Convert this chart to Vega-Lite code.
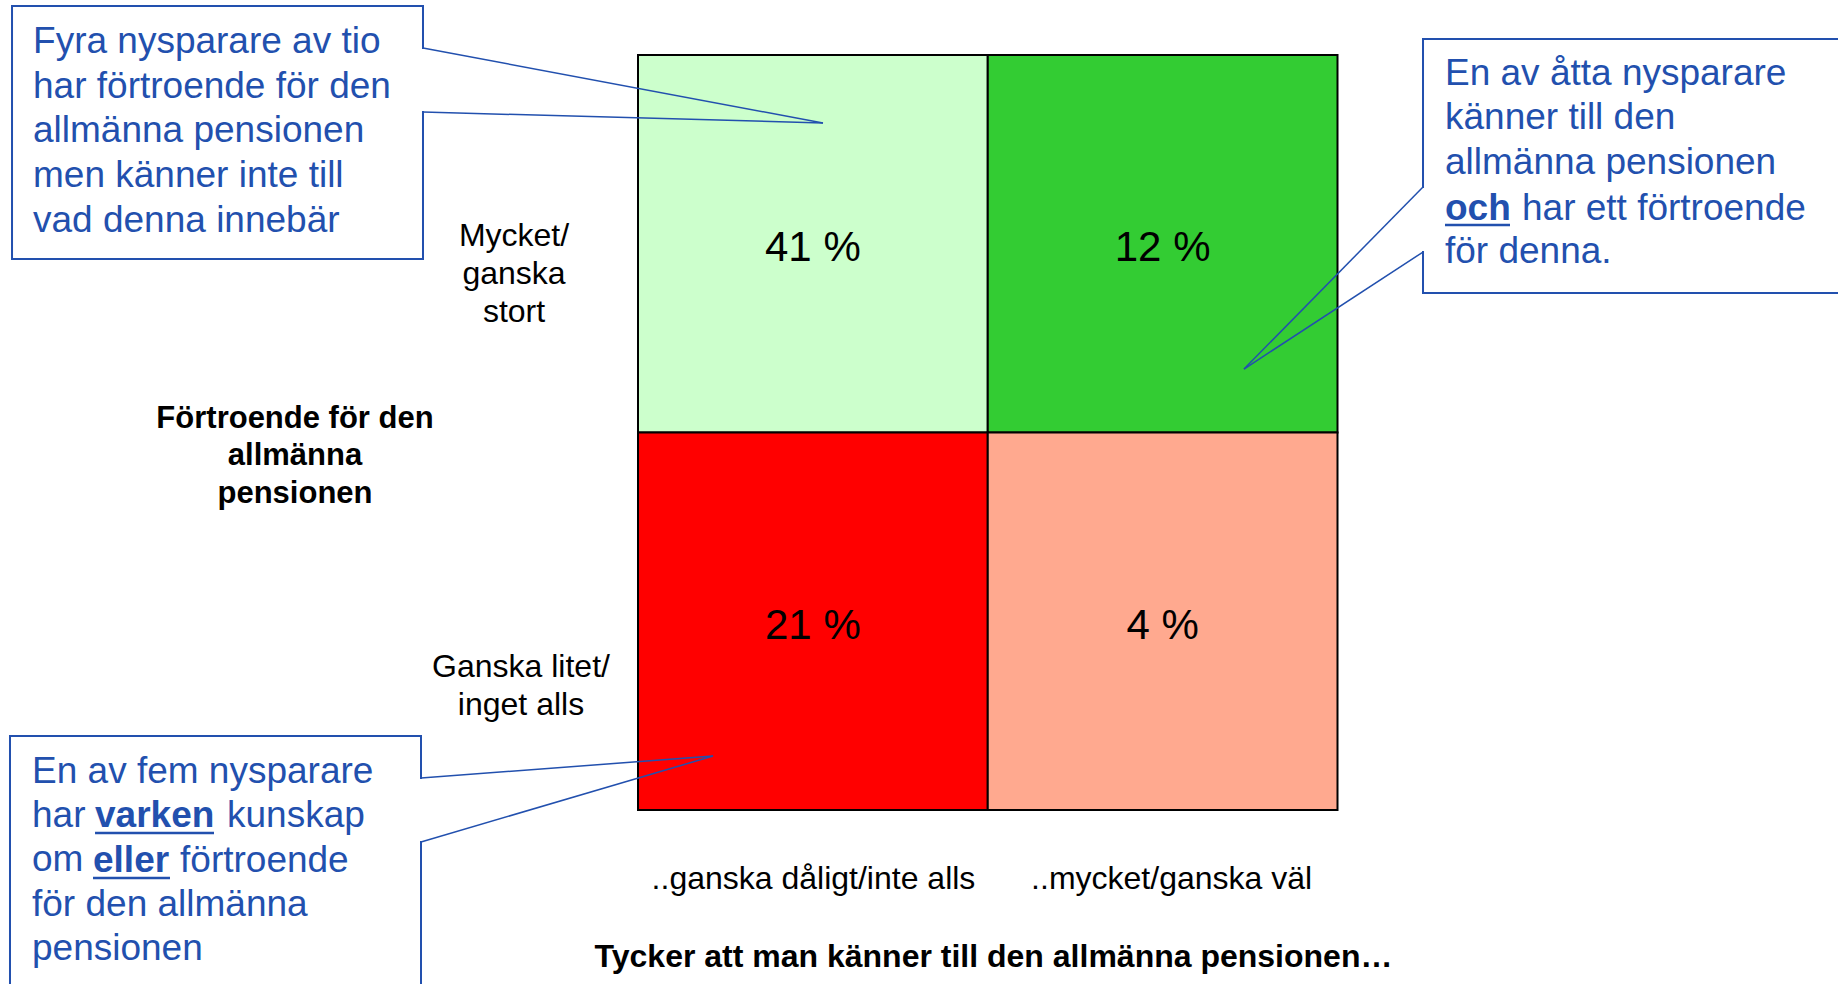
{
  "$schema": "https://vega.github.io/schema/vega-lite/v6.json",
  "width": 1838,
  "height": 984,
  "autosize": {"type": "fit", "contains": "padding"},
  "padding": 0,
  "background": "white",
  "config": {"view": {"stroke": null}, "font": "Liberation Sans"},
  "resolve": {"scale": {"x": "independent", "y": "independent"}},
  "layer": [
    {
      "data": {"values": [
        {"kunskap": "..ganska dåligt/inte alls", "fortroende": "Mycket/ganska stort", "grupp": "Förtroende utan kunskap", "andel": 41},
        {"kunskap": "..mycket/ganska väl", "fortroende": "Mycket/ganska stort", "grupp": "Kunskap och förtroende", "andel": 12},
        {"kunskap": "..ganska dåligt/inte alls", "fortroende": "Ganska litet/inget alls", "grupp": "Varken kunskap eller förtroende", "andel": 21},
        {"kunskap": "..mycket/ganska väl", "fortroende": "Ganska litet/inget alls", "grupp": "Kunskap utan förtroende", "andel": 4}
      ]},
      "encoding": {
        "x": {"field": "kunskap", "type": "nominal", "axis": null,
              "scale": {"domain": ["..ganska dåligt/inte alls", "..mycket/ganska väl"], "paddingInner": 0, "paddingOuter": 0, "range": [638, 1337.5]}},
        "y": {"field": "fortroende", "type": "nominal", "axis": null,
              "scale": {"domain": ["Mycket/ganska stort", "Ganska litet/inget alls"], "paddingInner": 0, "paddingOuter": 0.3033, "align": 0.2402}}
      },
      "layer": [
        {
          "mark": {"type": "rect", "stroke": "black", "strokeWidth": 2},
          "encoding": {
            "color": {"field": "grupp", "type": "nominal", "legend": null,
                      "scale": {"domain": ["Förtroende utan kunskap", "Kunskap och förtroende", "Varken kunskap eller förtroende", "Kunskap utan förtroende"],
                                "range": ["#CCFFCC", "#33CC33", "#FF0000", "#FFA98F"]}}
          }
        },
        {
          "mark": {"type": "text", "fontSize": 42, "color": "black", "align": "center", "baseline": "alphabetic", "dy": 17.5,
                   "text": {"expr": "datum.andel + ' %'"}}
        }
      ]
    },
    {
      "data": {"values": [{}]},
      "layer": [
        {
          "mark": {"type": "rect", "fill": "white", "stroke": "#2250AE", "strokeWidth": 2},
          "encoding": {
            "x": {"datum": -1.7911, "type": "quantitative", "axis": null, "scale": {"domain": [-1.8255, 3.4335], "nice": false, "zero": false}},
            "x2": {"datum": -0.6152},
            "y": {"datum": 2.1298, "type": "quantitative", "axis": null, "scale": {"domain": [-0.4609, 2.1457], "nice": false, "zero": false}},
            "y2": {"datum": 1.4596}
          }
        },
        {
          "mark": {"type": "rule", "stroke": "white", "strokeWidth": 4},
          "encoding": {"x": {"datum": -0.6152, "type": "quantitative", "axis": null}, "y": {"datum": 2.0159, "type": "quantitative", "axis": null}, "y2": {"datum": 1.8517}}
        },
        {
          "mark": {"type": "rule", "stroke": "#2250AE", "strokeWidth": 1.5},
          "encoding": {"x": {"datum": -0.6152, "type": "quantitative", "axis": null}, "y": {"datum": 2.0185, "type": "quantitative", "axis": null}, "x2": {"datum": 0.5293}, "y2": {"datum": 1.8199}}
        },
        {
          "mark": {"type": "rule", "stroke": "#2250AE", "strokeWidth": 1.5},
          "encoding": {"x": {"datum": -0.6152, "type": "quantitative", "axis": null}, "y": {"datum": 1.8490, "type": "quantitative", "axis": null}, "x2": {"datum": 0.5293}, "y2": {"datum": 1.8199}}
        },
        {
          "mark": {"type": "text", "align": "left", "baseline": "top", "fontSize": 37, "lineHeight": 44.75, "color": "#2250AE",
                   "text": ["Fyra nysparare av tio", "har förtroende för den", "allmänna pensionen", "men känner inte till", "vad denna innebär"]},
          "encoding": {"x": {"datum": -1.7310, "type": "quantitative", "axis": null}, "y": {"datum": 2.0827, "type": "quantitative", "axis": null}}
        },
        {
          "mark": {"type": "rect", "fill": "white", "stroke": "#2250AE", "strokeWidth": 2, "clip": true},
          "encoding": {"x": {"datum": 2.2461, "type": "quantitative", "axis": null}, "x2": {"datum": 3.45}, "y": {"datum": 2.0424, "type": "quantitative", "axis": null}, "y2": {"datum": 1.3695}}
        },
        {
          "mark": {"type": "rule", "stroke": "white", "strokeWidth": 4},
          "encoding": {"x": {"datum": 2.2461, "type": "quantitative", "axis": null}, "y": {"datum": 1.6477, "type": "quantitative", "axis": null}, "y2": {"datum": 1.4808}}
        },
        {
          "mark": {"type": "rule", "stroke": "#2250AE", "strokeWidth": 1.5},
          "encoding": {"x": {"datum": 2.2461, "type": "quantitative", "axis": null}, "y": {"datum": 1.6503, "type": "quantitative", "axis": null}, "x2": {"datum": 1.7339}, "y2": {"datum": 1.1682}}
        },
        {
          "mark": {"type": "rule", "stroke": "#2250AE", "strokeWidth": 1.5},
          "encoding": {"x": {"datum": 2.2461, "type": "quantitative", "axis": null}, "y": {"datum": 1.4781, "type": "quantitative", "axis": null}, "x2": {"datum": 1.7339}, "y2": {"datum": 1.1682}}
        },
        {
          "mark": {"type": "text", "align": "left", "baseline": "top", "fontSize": 37, "lineHeight": 44.5, "color": "#2250AE",
                   "text": ["En av åtta nysparare", "känner till den", "allmänna pensionen"]},
          "encoding": {"x": {"datum": 2.3090, "type": "quantitative", "axis": null}, "y": {"datum": 1.9979, "type": "quantitative", "axis": null}}
        },
        {
          "mark": {"type": "text", "align": "left", "baseline": "alphabetic", "fontSize": 37, "fontWeight": "bold", "color": "#2250AE", "text": "och"},
          "encoding": {"x": {"datum": 2.3090, "type": "quantitative", "axis": null}, "y": {"datum": 1.5629, "type": "quantitative", "axis": null}}
        },
        {
          "mark": {"type": "rule", "stroke": "#2250AE", "strokeWidth": 2.5},
          "encoding": {"x": {"datum": 2.3090, "type": "quantitative", "axis": null}, "x2": {"datum": 2.4950}, "y": {"datum": 1.5497, "type": "quantitative", "axis": null}}
        },
        {
          "mark": {"type": "text", "align": "left", "baseline": "alphabetic", "fontSize": 37, "color": "#2250AE", "text": "har ett förtroende"},
          "encoding": {"x": {"datum": 2.5293, "type": "quantitative", "axis": null}, "y": {"datum": 1.5629, "type": "quantitative", "axis": null}}
        },
        {
          "mark": {"type": "text", "align": "left", "baseline": "alphabetic", "fontSize": 37, "color": "#2250AE", "text": "för denna."},
          "encoding": {"x": {"datum": 2.3090, "type": "quantitative", "axis": null}, "y": {"datum": 1.4490, "type": "quantitative", "axis": null}}
        },
        {
          "mark": {"type": "rect", "fill": "white", "stroke": "#2250AE", "strokeWidth": 2, "clip": true},
          "encoding": {"x": {"datum": -1.7969, "type": "quantitative", "axis": null}, "x2": {"datum": -0.6209}, "y": {"datum": 0.1960, "type": "quantitative", "axis": null}, "y2": {"datum": -0.52}}
        },
        {
          "mark": {"type": "rule", "stroke": "white", "strokeWidth": 4},
          "encoding": {"x": {"datum": -0.6209, "type": "quantitative", "axis": null}, "y": {"datum": 0.0821, "type": "quantitative", "axis": null}, "y2": {"datum": -0.0821}}
        },
        {
          "mark": {"type": "rule", "stroke": "#2250AE", "strokeWidth": 1.5},
          "encoding": {"x": {"datum": -0.6209, "type": "quantitative", "axis": null}, "y": {"datum": 0.0848, "type": "quantitative", "axis": null}, "x2": {"datum": 0.2146}, "y2": {"datum": 0.1430}}
        },
        {
          "mark": {"type": "rule", "stroke": "#2250AE", "strokeWidth": 1.5},
          "encoding": {"x": {"datum": -0.6209, "type": "quantitative", "axis": null}, "y": {"datum": -0.0848, "type": "quantitative", "axis": null}, "x2": {"datum": 0.2146}, "y2": {"datum": 0.1430}}
        },
        {
          "mark": {"type": "text", "align": "left", "baseline": "top", "fontSize": 37, "lineHeight": 44.25, "color": "#2250AE",
                   "text": ["En av fem nysparare", "har", "om", "för den allmänna", "pensionen"]},
          "encoding": {"x": {"datum": -1.7339, "type": "quantitative", "axis": null}, "y": {"datum": 0.1489, "type": "quantitative", "axis": null}}
        },
        {
          "mark": {"type": "text", "align": "left", "baseline": "alphabetic", "fontSize": 37, "fontWeight": "bold", "color": "#2250AE", "text": "varken"},
          "encoding": {"x": {"datum": -1.5536, "type": "quantitative", "axis": null}, "y": {"datum": -0.0450, "type": "quantitative", "axis": null}}
        },
        {
          "mark": {"type": "rule", "stroke": "#2250AE", "strokeWidth": 2.5},
          "encoding": {"x": {"datum": -1.5536, "type": "quantitative", "axis": null}, "x2": {"datum": -1.2132}, "y": {"datum": -0.0609, "type": "quantitative", "axis": null}}
        },
        {
          "mark": {"type": "text", "align": "left", "baseline": "alphabetic", "fontSize": 37, "color": "#2250AE", "text": "kunskap"},
          "encoding": {"x": {"datum": -1.1760, "type": "quantitative", "axis": null}, "y": {"datum": -0.0450, "type": "quantitative", "axis": null}}
        },
        {
          "mark": {"type": "text", "align": "left", "baseline": "alphabetic", "fontSize": 37, "fontWeight": "bold", "color": "#2250AE", "text": "eller"},
          "encoding": {"x": {"datum": -1.5594, "type": "quantitative", "axis": null}, "y": {"datum": -0.1642, "type": "quantitative", "axis": null}}
        },
        {
          "mark": {"type": "rule", "stroke": "#2250AE", "strokeWidth": 2.5},
          "encoding": {"x": {"datum": -1.5594, "type": "quantitative", "axis": null}, "x2": {"datum": -1.3391}, "y": {"datum": -0.1801, "type": "quantitative", "axis": null}}
        },
        {
          "mark": {"type": "text", "align": "left", "baseline": "alphabetic", "fontSize": 37, "color": "#2250AE", "text": "förtroende"},
          "encoding": {"x": {"datum": -1.3104, "type": "quantitative", "axis": null}, "y": {"datum": -0.1642, "type": "quantitative", "axis": null}}
        },
        {
          "mark": {"type": "text", "align": "center", "baseline": "top", "fontSize": 31, "fontWeight": "bold", "lineHeight": 37.5, "color": "black",
                   "text": ["Förtroende för den", "allmänna", "pensionen"]},
          "encoding": {"x": {"datum": -0.9814, "type": "quantitative", "axis": null}, "y": {"datum": 1.0768, "type": "quantitative", "axis": null}}
        },
        {
          "mark": {"type": "text", "align": "center", "baseline": "top", "fontSize": 32, "lineHeight": 38, "color": "black",
                   "text": ["Mycket/", "ganska", "stort"]},
          "encoding": {"x": {"datum": -0.3548, "type": "quantitative", "axis": null}, "y": {"datum": 1.5611, "type": "quantitative", "axis": null}}
        },
        {
          "mark": {"type": "text", "align": "center", "baseline": "top", "fontSize": 32, "lineHeight": 38, "color": "black",
                   "text": ["Ganska litet/", "inget alls"]},
          "encoding": {"x": {"datum": -0.3348, "type": "quantitative", "axis": null}, "y": {"datum": 0.4193, "type": "quantitative", "axis": null}}
        },
        {
          "mark": {"type": "text", "align": "center", "baseline": "alphabetic", "fontSize": 32, "color": "black", "text": "..ganska dåligt/inte alls"},
          "encoding": {"x": {"datum": 0.5021, "type": "quantitative", "axis": null}, "y": {"datum": -0.2093, "type": "quantitative", "axis": null}}
        },
        {
          "mark": {"type": "text", "align": "center", "baseline": "alphabetic", "fontSize": 32, "color": "black", "text": "..mycket/ganska väl"},
          "encoding": {"x": {"datum": 1.5268, "type": "quantitative", "axis": null}, "y": {"datum": -0.2093, "type": "quantitative", "axis": null}}
        },
        {
          "mark": {"type": "text", "align": "center", "baseline": "alphabetic", "fontSize": 32, "fontWeight": "bold", "color": "black", "text": "Tycker att man känner till den allmänna pensionen…"},
          "encoding": {"x": {"datum": 1.0172, "type": "quantitative", "axis": null}, "y": {"datum": -0.4159, "type": "quantitative", "axis": null}}
        }
      ]
    }
  ]
}
